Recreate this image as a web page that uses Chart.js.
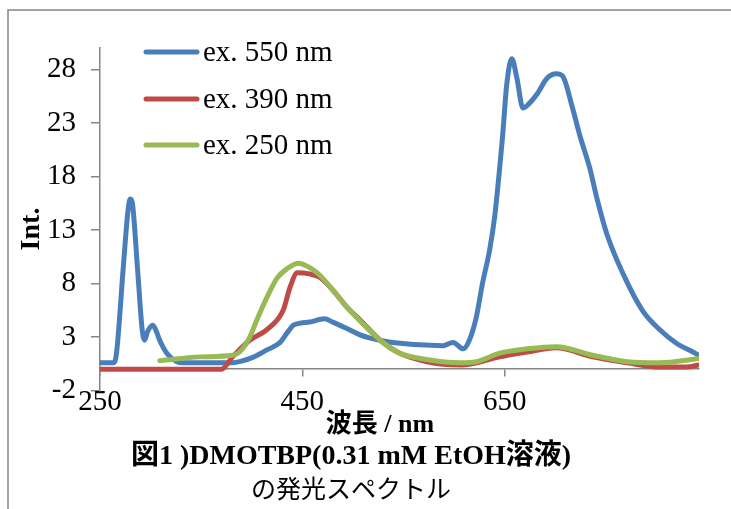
<!DOCTYPE html>
<html>
<head>
<meta charset="utf-8">
<script src="https://cdn.jsdelivr.net/npm/chart.js@4.4.1/dist/chart.umd.min.js"></script>
<style>
  body { margin: 0; background: #fff; }
  canvas { display: block; }
</style>
</head>
<body>
<canvas id="spectrum" width="731" height="509"></canvas>
<script>
// wavelengths (nm) and intensities
const ex550Nm = [250, 263, 265, 267, 273, 278, 280, 282, 287, 292, 294, 297, 302, 305, 309, 316, 326, 332, 381, 388, 401, 415, 428, 435, 441, 448, 457, 472, 480, 494, 507, 517, 539, 589, 599, 609, 615, 622, 628, 635, 640, 645, 648, 652, 657, 662, 668, 675, 682, 692, 701, 707, 717, 724, 734, 741, 751, 767, 786, 803, 820, 836, 842];
const ex550Int = [0.6, 0.6, 0.8, 2.1, 9.5, 15.1, 15.9, 15.5, 9.5, 3.4, 2.7, 3.5, 4.1, 3.7, 2.7, 1.5, 0.7, 0.6, 0.6, 0.7, 1.1, 1.8, 2.5, 3.4, 4.1, 4.3, 4.4, 4.7, 4.4, 3.8, 3.2, 2.9, 2.5, 2.2, 2.5, 1.9, 2.7, 4.9, 8.0, 11.1, 14.2, 18.8, 21.9, 26.6, 29.0, 27.2, 24.4, 24.9, 25.7, 27.2, 27.6, 27.4, 24.4, 21.9, 18.8, 16.0, 12.6, 8.9, 5.5, 3.7, 2.4, 1.6, 1.3];

const ex390Nm = [250, 370, 381, 398, 415, 431, 438, 445, 457, 467, 480, 494, 507, 527, 546, 573, 606, 622, 645, 672, 701, 737, 771, 803, 830, 842];
const ex390Int = [0.0, 0.0, 1.15, 2.7, 3.7, 5.5, 7.7, 9.0, 8.9, 8.6, 7.4, 5.8, 4.6, 2.7, 1.5, 0.7, 0.4, 0.6, 1.15, 1.6, 2.0, 1.15, 0.6, 0.2, 0.2, 0.4];

const ex250Nm = [309, 349, 381, 388, 398, 405, 415, 425, 435, 446, 457, 467, 480, 494, 507, 527, 546, 573, 606, 622, 645, 672, 701, 737, 771, 803, 842];
const ex250Int = [0.8, 1.15, 1.3, 1.6, 3.0, 4.6, 6.7, 8.5, 9.4, 9.9, 9.5, 8.8, 7.4, 5.8, 4.5, 2.7, 1.5, 0.9, 0.6, 0.7, 1.5, 1.9, 2.1, 1.3, 0.7, 0.6, 1.0];

const seriesLabels = ["ex. 550 nm", "ex. 390 nm", "ex. 250 nm"];
const xTicks = [250, 450, 650];
const yTicks = [-2, 3, 8, 13, 18, 23, 28];

const xTitle = "波長 / nm";
const yTitle = "Int.";
const caption = ["図1 )DMOTBP(0.31 mM EtOH溶液)", "の発光スペクトル"];

const colors = ["#4a7ebb", "#be4b48", "#98b954"];
const axisGray = "#868686";
const serif = '"Liberation Serif", "Noto Sans CJK JP", serif';

function toPoints(xs, ys) {
  return xs.map((x, i) => ({ x: x, y: ys[i] }));
}

function makeDataset(i, xs, ys, order) {
  return {
    label: seriesLabels[i],
    data: toPoints(xs, ys),
    borderColor: colors[i],
    borderWidth: 5,
    pointRadius: 0,
    cubicInterpolationMode: "monotone",
    borderCapStyle: "round",
    borderJoinStyle: "round",
    order: order,
  };
}

// frame, legend and the text boxes placed by hand in the original
const decorations = {
  id: "decorations",
  afterDraw(chart) {
    const ctx = chart.ctx;
    ctx.save();

    ctx.strokeStyle = axisGray;
    ctx.lineWidth = 1.5;
    ctx.strokeRect(8, 10, 760, 540);

    // legend
    const rows = [52, 99, 145];
    ctx.font = "29px " + serif;
    ctx.textBaseline = "middle";
    ctx.textAlign = "left";
    rows.forEach((y, i) => {
      ctx.strokeStyle = colors[i];
      ctx.lineWidth = 5;
      ctx.lineCap = "round";
      ctx.beginPath();
      ctx.moveTo(146, y);
      ctx.lineTo(197, y);
      ctx.stroke();
      ctx.fillStyle = "#000";
      ctx.fillText(chart.data.datasets[i].label, 203, y + 1);
    });

    ctx.fillStyle = "#000";
    ctx.textAlign = "center";

    ctx.font = "bold 26px " + serif;
    ctx.fillText(xTitle, 380, 425);

    ctx.font = "bold 28px " + serif;
    ctx.fillText(caption[0], 351, 457);
    ctx.font = "25px " + serif;
    ctx.fillText(caption[1], 351, 491);

    ctx.translate(32, 229);
    ctx.rotate(-Math.PI / 2);
    ctx.font = "bold 28px " + serif;
    ctx.fillText(yTitle, 0, 0);

    ctx.restore();
  },
};

const tickFont = { family: serif, size: 29 };

new Chart(document.getElementById("spectrum"), {
  type: "line",
  data: {
    datasets: [
      makeDataset(0, ex550Nm, ex550Int, 2),
      makeDataset(1, ex390Nm, ex390Int, 1),
      makeDataset(2, ex250Nm, ex250Int, 0),
    ],
  },
  options: {
    responsive: false,
    animation: false,
    layout: { padding: { top: 48, right: 32, left: 0, bottom: 0 } },
    plugins: {
      legend: { display: false },
      tooltip: { enabled: false },
    },
    scales: {
      x: {
        type: "linear",
        position: "bottom",
        min: 250,
        max: 842,
        afterBuildTicks: (s) => { s.ticks = xTicks.map((v) => ({ value: v })); },
        afterFit: (s) => { s.height = 118.4; },
        grid: { display: false, drawTicks: false },
        border: { display: false },
        ticks: { font: tickFont, color: "#000", padding: -6, maxRotation: 0 },
      },
      xZero: {
        type: "linear",
        axis: "x",
        position: { y: 0 },
        min: 250,
        max: 842,
        afterBuildTicks: (s) => { s.ticks = xTicks.map((v) => ({ value: v })); },
        grid: { drawOnChartArea: false, drawTicks: true, tickLength: 7, color: axisGray, lineWidth: 1.5 },
        border: { color: axisGray, width: 1.5 },
        ticks: { display: false },
      },
      y: {
        type: "linear",
        position: "left",
        min: -2,
        max: 30,
        afterBuildTicks: (s) => { s.ticks = yTicks.map((v) => ({ value: v })); },
        afterFit: (s) => { s.width = 100; },
        grid: { drawOnChartArea: false, tickLength: 9, color: axisGray, lineWidth: 1.5 },
        border: { color: axisGray, width: 1.5 },
        ticks: { font: tickFont, color: "#000", padding: 15 },
      },
    },
  },
  plugins: [decorations],
});
</script>
</body>
</html>
